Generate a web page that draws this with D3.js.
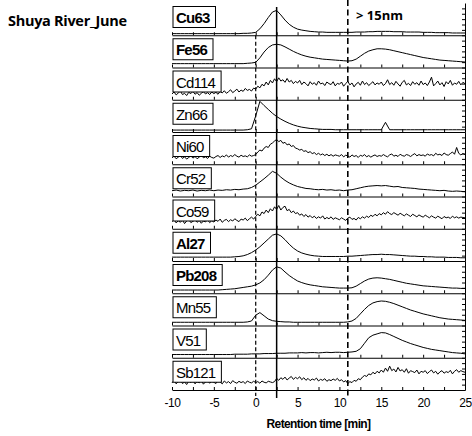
<!DOCTYPE html>
<html>
<head>
<meta charset="utf-8">
<script src="https://cdn.jsdelivr.net/npm/d3@7"></script>
<style>
  body { margin: 0; background: #fff; }
  svg { display: block; }
</style>
</head>
<body>
<div id="wrapper"></div>
<script>
// retention time grid of the smooth traces (min)
const times = [
  -10, -9.5, -9, -8.5, -8, -7.5, -7, -6.5, -6, -5.5,
  -5, -4.5, -4, -3.5, -3, -2.5, -2, -1.5, -1, -0.5,
  0, 0.5, 1, 1.5, 2, 2.5, 3, 3.5, 4, 4.5,
  5, 5.5, 6, 6.5, 7, 7.5, 8, 8.5, 9, 9.5,
  10, 10.5, 11, 11.5, 12, 12.5, 13, 13.5, 14, 14.5,
  15, 15.5, 16, 16.5, 17, 17.5, 18, 18.5, 19, 19.5,
  20, 20.5, 21, 21.5, 22, 22.5, 23, 23.5, 24, 24.5,
  25
]
// finer grid for the noisy traces (min)
const fineTimes = [
  -10, -9.75, -9.5, -9.25, -9, -8.75, -8.5, -8.25, -8, -7.75, -7.5, -7.25, -7, -6.75, -6.5, -6.25, -6, -5.75, -5.5, -5.25,
  -5, -4.75, -4.5, -4.25, -4, -3.75, -3.5, -3.25, -3, -2.75, -2.5, -2.25, -2, -1.75, -1.5, -1.25, -1, -0.75, -0.5, -0.25,
  0, 0.25, 0.5, 0.75, 1, 1.25, 1.5, 1.75, 2, 2.25, 2.5, 2.75, 3, 3.25, 3.5, 3.75, 4, 4.25, 4.5, 4.75,
  5, 5.25, 5.5, 5.75, 6, 6.25, 6.5, 6.75, 7, 7.25, 7.5, 7.75, 8, 8.25, 8.5, 8.75, 9, 9.25, 9.5, 9.75,
  10, 10.25, 10.5, 10.75, 11, 11.25, 11.5, 11.75, 12, 12.25, 12.5, 12.75, 13, 13.25, 13.5, 13.75, 14, 14.25, 14.5, 14.75,
  15, 15.25, 15.5, 15.75, 16, 16.25, 16.5, 16.75, 17, 17.25, 17.5, 17.75, 18, 18.25, 18.5, 18.75, 19, 19.25, 19.5, 19.75,
  20, 20.25, 20.5, 20.75, 21, 21.25, 21.5, 21.75, 22, 22.25, 22.5, 22.75, 23, 23.25, 23.5, 23.75, 24, 24.25, 24.5, 24.75,
  25
]

// element order, top to bottom
const elements = ["Cu63", "Fe56", "Cd114", "Zn66", "Ni60", "Cr52", "Co59", "Al27", "Pb208", "Mn55", "V51", "Sb121"]
const boldElements = ["Cu63", "Fe56", "Al27", "Pb208"]

// relative signal of every element (0 = panel floor, 1 = panel top)
const cu63 = [
  .05, .05, .05, .05, .05, .05, .05, .05, .05, .05,
  .05, .05, .05, .05, .05, .05, .05, .06, .06, .07,
  .09, .2, .36, .55, .72, .77, .63, .47, .34, .25,
  .19, .16, .14, .12, .11, .1, .1, .09, .09, .09,
  .09, .09, .09, .09, .1, .1, .1, .11, .11, .12,
  .12, .12, .12, .11, .11, .11, .1, .1, .1, .1,
  .09, .09, .09, .08, .08, .08, .08, .07, .07, .07,
  .07
]
const fe56 = [
  .12, .12, .12, .12, .12, .12, .12, .12, .12, .12,
  .12, .12, .12, .12, .12, .12, .12, .12, .13, .14,
  .16, .3, .48, .62, .7, .72, .7, .64, .57, .5,
  .44, .39, .35, .32, .3, .28, .26, .25, .24, .23,
  .22, .21, .2, .21, .26, .35, .44, .51, .55, .58,
  .58, .57, .55, .52, .49, .46, .43, .4, .37, .34,
  .31, .29, .27, .25, .23, .22, .21, .2, .19, .18,
  .17
]
const cd114 = [
  .18, .24, .15, .21, .27, .16, .2, .13, .23, .19, .26, .17, .22, .14, .2, .25, .18, .22, .16, .24,
  .19, .23, .17, .26, .21, .28, .2, .25, .31, .22, .27, .33, .24, .3, .26, .35, .29, .32, .27, .36,
  .33, .42, .37, .48, .43, .55, .46, .6, .52, .65, .56, .68, .58, .62, .54, .66, .55, .6, .5, .57,
  .52, .6, .47, .55, .5, .43, .56, .48, .53, .45, .58, .49, .52, .44, .55, .5, .47, .56, .43, .51,
  .48, .55, .42, .5, .57, .46, .52, .4, .49, .54, .45, .58, .47, .53, .44, .5, .56, .46, .52, .48,
  .55, .44, .5, .62, .47, .53, .45, .57, .49, .42, .54, .6, .46, .51, .44, .56, .48, .53, .45, .58,
  .47, .52, .44, .55, .7, .43, .5, .58, .46, .53, .41, .56, .49, .6, .45, .52, .48, .57, .46, .54,
  .5
]
const zn66 = [
  .06, .06, .06, .06, .06, .06, .06, .06, .06, .06,
  .06, .06, .06, .06, .06, .06, .06, .06, .07, .1,
  .5, .95, .82, .7, .58, .48, .4, .33, .27, .22,
  .18, .15, .13, .11, .1, .09, .08, .08, .08, .07,
  .07, .07, .07, .07, .07, .07, .07, .07, .07, .07,
  .07, .3, .07, .07, .07, .07, .07, .07, .07, .07,
  .07, .07, .07, .07, .07, .07, .07, .07, .07, .07,
  .07
]
const ni60 = [
  .2, .25, .17, .22, .27, .18, .23, .16, .21, .26, .19, .24, .17, .22, .28, .2, .23, .18, .25, .21,
  .19, .24, .27, .21, .26, .23, .29, .22, .27, .24, .3, .25, .22, .28, .24, .26, .23, .29, .25, .27,
  .3, .38, .44, .41, .5, .55, .52, .62, .66, .72, .77, .7, .74, .65, .68, .6, .63, .55, .58, .5,
  .48, .44, .46, .4, .42, .36, .39, .33, .36, .3, .34, .29, .32, .27, .31, .26, .3, .25, .29, .27,
  .25, .3, .23, .28, .26, .22, .29, .24, .27, .21, .28, .25, .3, .23, .27, .22, .26, .29, .24, .27,
  .25, .3, .26, .23, .29, .32, .25, .28, .24, .31, .27, .25, .3, .28, .24, .29, .33, .26, .3, .27,
  .29, .25, .32, .28, .3, .26, .34, .29, .31, .27, .35, .3, .28, .33, .38, .31, .52, .34, .29, .33,
  .3
]
const cr52 = [
  .18, .2, .17, .19, .18, .2, .17, .19, .18, .2,
  .18, .2, .19, .21, .2, .22, .21, .23, .24, .28,
  .35, .45, .55, .66, .78, .72, .6, .5, .42, .36,
  .31, .28, .25, .24, .22, .21, .22, .2, .21, .19,
  .2, .18, .2, .21, .24, .27, .3, .32, .33, .34,
  .33, .34, .32, .3, .31, .28, .27, .26, .25, .23,
  .22, .21, .2, .19, .18, .19, .17, .16, .17, .16,
  .15
]
const co59 = [
  .22, .28, .18, .25, .2, .27, .16, .24, .29, .19, .23, .27, .2, .26, .17, .24, .21, .28, .19, .25,
  .21, .27, .23, .3, .2, .26, .29, .22, .28, .24, .31, .26, .22, .3, .27, .33, .25, .31, .36, .3,
  .38, .45, .4, .52, .47, .58, .5, .62, .55, .68, .6, .72, .58, .66, .7, .56, .6, .5, .55, .47,
  .5, .42, .46, .38, .44, .36, .41, .34, .39, .32, .37, .33, .4, .3, .35, .31, .37, .29, .34, .31,
  .28, .34, .3, .26, .33, .36, .29, .32, .27, .35, .31, .37, .33, .39, .35, .42, .38, .45, .4, .47,
  .43, .5, .45, .53, .47, .44, .5, .46, .42, .48, .44, .4, .46, .42, .38, .45, .41, .37, .43, .39,
  .36, .42, .38, .34, .4, .36, .33, .39, .35, .31, .38, .34, .36, .32, .39, .34, .37, .33, .36, .35,
  .34
]
const al27 = [
  .12, .12, .12, .12, .12, .12, .12, .12, .12, .12,
  .12, .12, .12, .12, .12, .13, .14, .16, .2, .26,
  .34, .44, .56, .68, .8, .84, .78, .66, .52, .4,
  .31, .25, .21, .18, .16, .15, .14, .14, .14, .14,
  .14, .14, .15, .15, .16, .17, .18, .19, .2, .2,
  .21, .2, .2, .19, .18, .17, .16, .15, .15, .14,
  .14, .13, .13, .12, .12, .12, .11, .11, .11, .1,
  .1
]
const pb208 = [
  .1, .1, .1, .1, .1, .1, .1, .1, .1, .1,
  .1, .1, .11, .12, .13, .14, .16, .18, .2, .22,
  .26, .32, .42, .56, .72, .82, .78, .66, .55, .46,
  .38, .33, .29, .26, .24, .22, .2, .19, .18, .17,
  .16, .16, .16, .17, .22, .3, .38, .44, .47, .48,
  .47, .45, .43, .4, .37, .34, .31, .29, .27, .25,
  .23, .22, .21, .2, .19, .18, .17, .16, .16, .15,
  .15
]
const mn55 = [
  .1, .1, .1, .1, .1, .1, .1, .1, .1, .1,
  .1, .1, .1, .1, .1, .1, .1, .1, .11, .14,
  .32, .4, .3, .2, .15, .13, .12, .11, .11, .1,
  .1, .1, .1, .1, .1, .1, .1, .1, .1, .1,
  .1, .1, .11, .14, .22, .36, .5, .62, .7, .74,
  .76, .75, .72, .68, .63, .58, .53, .48, .44, .4,
  .36, .33, .3, .27, .24, .22, .2, .19, .18, .17,
  .16
]
const v51 = [
  .1, .1, .1, .1, .1, .1, .1, .1, .1, .1,
  .1, .1, .1, .1, .1, .11, .11, .11, .11, .12,
  .12, .12, .13, .13, .13, .14, .14, .14, .15, .15,
  .15, .16, .15, .16, .16, .15, .16, .17, .16, .17,
  .17, .16, .17, .18, .2, .28, .45, .62, .7, .74,
  .78, .77, .72, .66, .6, .54, .49, .44, .4, .36,
  .32, .29, .26, .24, .22, .2, .18, .16, .15, .14,
  .12
]
const sb121 = [
  .22, .3, .19, .26, .33, .2, .25, .17, .28, .23, .31, .19, .26, .22, .3, .18, .25, .29, .21, .27,
  .24, .2, .31, .25, .19, .28, .22, .26, .2, .29, .24, .21, .27, .23, .26, .2, .28, .24, .22, .27,
  .23, .26, .21, .28, .24, .22, .27, .25, .23, .26, .36, .3, .38, .33, .4, .31, .37, .42, .33, .39,
  .35, .41, .32, .38, .3, .36, .29, .34, .31, .37, .28, .33, .3, .35, .27, .32, .29, .34, .3, .36,
  .28, .32, .25, .29, .2, .26, .23, .3, .27, .35, .32, .4, .45, .42, .5, .47, .55, .5, .58, .53,
  .62, .55, .68, .58, .74, .6, .65, .56, .7, .59, .63, .55, .66, .52, .6, .57, .54, .62, .5, .58,
  .55, .6, .51, .57, .62, .53, .58, .49, .56, .6, .52, .57, .54, .61, .5, .58, .63, .55, .6, .57,
  .55
]
const signals = [cu63, fe56, cd114, zn66, ni60, cr52, co59, al27, pb208, mn55, v51, sb121]
const signalTimes = [times, times, fineTimes, times, fineTimes, times, fineTimes, times, times, times, times, fineTimes]

// axis ticks and marker lines
const minorTicks = [-10, -7.5, -5, -2.5, 0, 2.5, 5, 7.5, 10, 12.5, 15, 17.5, 20, 22.5, 25]
const labelTicks = [-10, -5, 0, 5, 10, 15, 20, 25]
const rightTicks = [0, 1 / 6, 2 / 6, 3 / 6, 4 / 6, 5 / 6]
const dashedMarks = [0, 11]
const solidMark = 2.5

function drawStack() {
    const dims = {
        width: 472,
        height: 436,
        left: 172,
        right: 465,
        top: 3,
        bottom: 390,
    }
    const panelHeight = (dims.bottom - dims.top) / elements.length

    const svg = d3.select("#wrapper")
        .append("svg")
            .attr("width", dims.width)
            .attr("height", dims.height)
            .style("font-family", "'Liberation Sans', Arial, sans-serif")

    svg.append("rect")
        .attr("width", dims.width)
        .attr("height", dims.height)
        .attr("fill", "#fff")

    const xScale = d3.scaleLinear()
        .domain([-10, 25])
        .range([dims.left, dims.right])

    const yScale = d3.scaleLinear()
        .domain([0, 1])
        .range([panelHeight, 0])

    const panels = svg.selectAll("g.panel")
        .data(elements)
        .join("g")
            .attr("class", "panel")
            .attr("transform", (d, i) => `translate(0, ${dims.top + i * panelHeight})`)

    // traces
    panels.append("path")
        .attr("d", (d, i) => d3.line()
            .x((v, j) => xScale(signalTimes[i][j]))
            .y(v => yScale(v))(signals[i]))
        .attr("fill", "none")
        .attr("stroke", "#000")
        .attr("stroke-width", 1)
        .attr("stroke-linejoin", "round")

    // floor axis of every panel, ticks pointing up
    panels.append("g")
        .attr("transform", `translate(0, ${panelHeight})`)
        .call(d3.axisBottom(xScale)
            .tickValues(minorTicks)
            .tickSizeInner(-3)
            .tickSizeOuter(0)
            .tickFormat(""))

    // right axis with inward ticks
    panels.append("g")
        .attr("transform", `translate(${dims.right}, 0)`)
        .call(d3.axisRight(yScale)
            .tickValues(rightTicks)
            .tickSizeInner(-3)
            .tickSizeOuter(0)
            .tickFormat(""))

    svg.selectAll(".domain, .tick line")
        .attr("stroke", "#000")
        .attr("stroke-width", 1)

    // marker lines
    svg.selectAll("line.dashed")
        .data(dashedMarks)
        .join("line")
            .attr("class", "dashed")
            .attr("x1", d => xScale(d))
            .attr("x2", d => xScale(d))
            .attr("y1", d => d === 0 ? dims.top + panelHeight : 0)
            .attr("y2", dims.bottom + 6)
            .attr("stroke", "#000")
            .attr("stroke-width", d => d === 0 ? 1.2 : 1.6)
            .attr("stroke-dasharray", d => d === 0 ? "4,2.5" : "6,3.5")

    svg.append("line")
        .attr("x1", xScale(solidMark))
        .attr("x2", xScale(solidMark))
        .attr("y1", 7)
        .attr("y2", dims.bottom + 8)
        .attr("stroke", "#000")
        .attr("stroke-width", 1.5)

    // element labels in boxes
    const labels = panels.append("g")
        .attr("transform", "translate(173, 3.5)")
    labels.append("text")
        .attr("x", 3)
        .attr("y", 16.5)
        .attr("font-size", 15)
        .attr("letter-spacing", -0.8)
        .attr("font-weight", d => boldElements.includes(d) ? "bold" : "normal")
        .text(d => d)
    labels.insert("rect", "text")
        .attr("x", 0)
        .attr("y", 0)
        .attr("width", function () {
            return this.parentNode.querySelector("text").getComputedTextLength() + 9
        })
        .attr("height", 21)
        .attr("fill", "#fff")
        .attr("stroke", "#000")
        .attr("stroke-width", 1)

    // bottom tick labels
    svg.append("g")
        .attr("transform", `translate(0, ${dims.bottom})`)
        .call(d3.axisBottom(xScale)
            .tickValues(labelTicks)
            .tickSize(0)
            .tickPadding(8)
            .tickFormat(d => String(d)))
        .call(g => g.select(".domain").remove())
        .selectAll("text")
            .attr("font-family", "'Liberation Sans', Arial, sans-serif")
            .attr("font-size", 12)
            .attr("letter-spacing", -0.5)
            .attr("fill", "#000")

    svg.append("text")
        .attr("x", (dims.left + dims.right) / 2)
        .attr("y", 428)
        .attr("text-anchor", "middle")
        .attr("font-size", 12)
        .attr("font-weight", "bold")
        .attr("letter-spacing", -0.6)
        .text("Retention time [min]")

    svg.append("text")
        .attr("x", 8)
        .attr("y", 26)
        .attr("font-family", "'Open Sans', sans-serif")
        .attr("font-size", 14.5)
        .attr("font-weight", "bold")
        .attr("letter-spacing", -0.3)
        .text("Shuya River_June")

    svg.append("text")
        .attr("x", 356)
        .attr("y", 20)
        .attr("font-family", "'Open Sans', sans-serif")
        .attr("font-size", 13)
        .attr("font-weight", "bold")
        .text("> 15nm")
}

drawStack()
</script>
</body>
</html>
